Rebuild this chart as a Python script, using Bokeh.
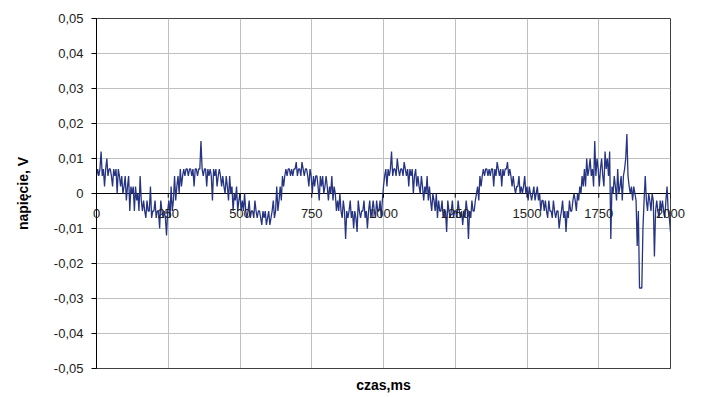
from bokeh.plotting import figure
from bokeh.models import FixedTicker, CustomJSTickFormatter, Span, ColumnDataSource, LinearAxis
from bokeh.embed import file_html
from bokeh.resources import INLINE

napiecie_mV = [
    5, 7, 5, 7, 12, 5, 7, 2, 7, 10,
    5, 7, 7, 5, 2, 7, 5, 7, 0, 7,
    5, 2, 5, 0, 2, 5, -2, 2, 5, -5,
    2, 0, 2, -5, 2, -2, 0, -5, 5, -2,
    -5, -2, -5, -7, -2, -5, -5, 2, -7, -5,
    -5, -2, -7, -5, -5, -10, -2, -5, -7, -5,
    -7, -12, -5, -2, -7, 2, -5, -2, 5, -2,
    2, 5, 0, 7, 2, 5, 7, 5, 7, 7,
    5, 7, 7, 5, 7, 2, 7, 7, 5, 7,
    7, 15, 7, 5, 7, 7, 2, 7, 5, 7,
    5, -2, 7, 5, 7, 2, 5, 7, 5, 2,
    5, 2, 0, 5, 2, -2, 5, 0, 2, -5,
    0, -2, 2, -5, -2, 0, -5, -2, -5, 0,
    -5, -7, -5, -2, -7, -5, -5, -7, -2, -5,
    -7, -5, -5, -7, -9, -5, -7, -5, -9, -7,
    -5, -9, -7, -5, -2, -7, -5, 2, -5, -2,
    2, -2, 5, 2, 5, 7, 5, 7, 7, 5,
    7, 5, 7, 7, 9, 5, 7, 7, 5, 9,
    7, 5, 7, 7, 5, 2, 7, 5, 0, 5,
    2, 5, 5, 2, -2, 5, 2, 5, 0, 2,
    5, 2, -2, 2, 0, 5, -2, 2, 0, -5,
    -2, -5, 0, -5, -7, -2, -5, -13, -5, -7,
    -5, -2, -7, -5, -10, -5, -7, -11, -2, -5,
    -7, -5, -5, -2, -7, -5, -10, -5, -2, -7,
    -5, -2, -5, -7, -2, -5, -5, -2, -7, -2,
    2, 5, 7, 2, 7, 5, 7, 12, 5, 7,
    7, 5, 10, 7, 5, 7, 7, 5, 9, 7,
    5, 7, 2, 7, 5, 7, 0, 5, 7, 2,
    5, 2, 0, 5, 2, -2, 2, 0, 5, -2,
    2, -2, -5, 0, -2, -5, 0, -7, -2, -5,
    -5, -2, -7, -5, -5, -11, -2, -5, -7, -5,
    -2, -7, -5, -5, -7, -2, -5, -7, -5, -9,
    -5, -7, -2, -5, -13, -5, -7, -2, -5, -5,
    -2, 0, 2, -2, 5, 2, 5, 7, 5, 7,
    7, 5, 7, 5, 7, 7, 2, 7, 5, 9,
    7, 5, 7, 2, 7, 5, 7, 7, 9, 5,
    7, 5, 2, 5, 2, 0, 2, 2, 5, 0,
    2, 0, 2, 5, 0, 2, -2, 2, 0, -2,
    0, 2, -2, 0, 2, -2, 0, -5, -2, -2,
    -5, -2, -5, -7, -2, -5, -5, -7, -2, -5,
    -7, -5, -5, -10, -7, -5, -2, -7, -5, -11,
    -5, -7, -2, -5, -5, -2, 0, -2, -5, 0,
    -2, 2, 0, 5, 2, 7, 2, 10, 5, 7,
    10, 5, 7, 2, 15, 5, 10, 7, 2, 7,
    10, 5, 2, 12, 7, 10, 5, 12, -13, 2,
    0, 5, 2, -2, 7, 0, 2, 5, -2, 5,
    7, 10, 17, 5, 2, 0, 2, -2, 2, 0,
    -2, -15, -5, -27, -27, -27, -10, -2, 5, -2,
    -5, 0, -2, -5, 0, -2, -18, -5, -2, -5,
    -7, -2, -5, -2, -5, -7, -2, 2, -5, -7,
    -11,
]
krok_ms = 4
czas_ms = [i * krok_ms for i in range(len(napiecie_mV))]
napiecie_V = [v / 1000.0 for v in napiecie_mV]

x_ticks = [0, 250, 500, 750, 1000, 1250, 1500, 1750, 2000]
x_labels = ["0", "250", "500", "750", "1000", "1250", "1500", "1750", "2000"]
y_ticks = [-0.05, -0.04, -0.03, -0.02, -0.01, 0.0, 0.01, 0.02, 0.03, 0.04, 0.05]
y_labels = ["-0,05", "-0,04", "-0,03", "-0,02", "-0,01", "0", "0,01", "0,02", "0,03", "0,04", "0,05"]

FONT = "Liberation Sans"
JS_PICK = """
let best = 0;
for (let i = 0; i < tvals.length; i++) {
  if (Math.abs(tvals[i] - tick) < Math.abs(tvals[best] - tick)) best = i;
}
return tlabels[best];
"""

p = figure(width=694, height=395, x_range=(0, 2000), y_range=(-0.05, 0.05),
           output_backend="svg", toolbar_location=None,
           min_border_left=96, min_border_right=24, min_border_top=18, min_border_bottom=27)
p.background_fill_color = "white"
p.border_fill_color = "white"
p.outline_line_color = "#404040"
p.outline_line_width = 1

# grids
p.xgrid.ticker = FixedTicker(ticks=x_ticks)
p.ygrid.ticker = FixedTicker(ticks=y_ticks)
p.xgrid.grid_line_color = "#c0c0c0"
p.ygrid.grid_line_color = "#c0c0c0"
p.xgrid.grid_line_width = 1
p.ygrid.grid_line_width = 1

# y axis
yax = p.yaxis[0]
yax.ticker = FixedTicker(ticks=y_ticks)
yax.formatter = CustomJSTickFormatter(args=dict(tvals=y_ticks, tlabels=y_labels), code=JS_PICK)
yax.axis_line_color = "black"
yax.major_tick_line_color = "black"
yax.major_tick_out = 5
yax.major_tick_in = 0
yax.minor_tick_line_color = None
yax.major_label_text_font = FONT
yax.major_label_text_font_size = "13px"
yax.major_label_text_color = "#222222"
yax.major_label_standoff = 8
yax.axis_label = "napięcie, V"
yax.axis_label_text_font = FONT
yax.axis_label_text_font_size = "14px"
yax.axis_label_text_font_style = "bold"
yax.axis_label_text_color = "black"
yax.axis_label_standoff = 20

# x axis (below): only the title
xax = p.xaxis[0]
xax.ticker = FixedTicker(ticks=[])
xax.major_label_standoff = 0
xax.major_tick_out = 0
xax.major_tick_in = 0
xax.minor_tick_line_color = None
xax.axis_line_color = "#404040"
xax.axis_label = "czas,ms"
xax.axis_label_text_font = FONT
xax.axis_label_text_font_size = "14px"
xax.axis_label_text_font_style = "bold"
xax.axis_label_text_color = "black"
xax.axis_label_standoff = 8

# x tick labels sitting just under the zero line (axis above, labels shifted down)
xlab = LinearAxis(ticker=FixedTicker(ticks=x_ticks),
                  formatter=CustomJSTickFormatter(args=dict(tvals=x_ticks, tlabels=x_labels), code=JS_PICK))
xlab.axis_line_color = None
xlab.major_tick_out = 0
xlab.major_tick_in = 0
xlab.minor_tick_line_color = None
xlab.major_label_standoff = -199
xlab.major_label_text_font = FONT
xlab.major_label_text_font_size = "13px"
xlab.major_label_text_color = "#222222"
p.add_layout(xlab, "above")

# zero line acting as x axis
zero = Span(location=0, dimension="width", line_color="black", line_width=1, level="underlay")
p.add_layout(zero)

# signal
src = ColumnDataSource(dict(t=czas_ms, v=napiecie_V))
p.line("t", "v", source=src, line_color="#263482", line_width=1.3)

# small tick marks on the zero line
tick_src = ColumnDataSource(dict(x=x_ticks, y=[0.0] * len(x_ticks), y1=[-0.0012] * len(x_ticks)))
p.segment(x0="x", y0="y", x1="x", y1="y1", source=tick_src, line_color="black", line_width=1)

open("out.html", "w").write(file_html(p, INLINE))
